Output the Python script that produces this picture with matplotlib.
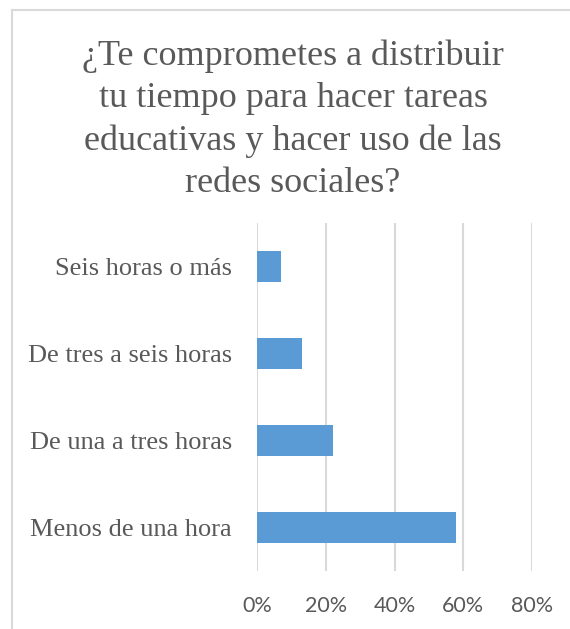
import matplotlib
matplotlib.use("Agg")
import matplotlib.pyplot as plt
from matplotlib.lines import Line2D
from matplotlib.ticker import PercentFormatter

# data (top to bottom as shown)
categories = ["Seis horas o más", "De tres a seis horas", "De una a tres horas", "Menos de una hora"]
values = [7, 13, 22, 58]
xticks = [0, 20, 40, 60, 80]
title_lines = ["¿Te comprometes a distribuir",
               "tu tiempo para hacer tareas",
               "educativas y hacer uso de las",
               "redes sociales?"]

TEXT = "#595959"
GRID = "#d9d9d9"
BAR = "#5b9bd5"

fig = plt.figure(figsize=(5.7, 6.29), dpi=100)
fig.patch.set_facecolor("white")

# chart border (only top and left show in the crop)
fig.add_artist(Line2D([12/570, 12/570], [0, 1 - 10/629], transform=fig.transFigure, color=GRID, lw=1.5))
fig.add_artist(Line2D([12/570, 1], [1 - 10/629, 1 - 10/629], transform=fig.transFigure, color=GRID, lw=1.5))

fig.text(293/570, 1 - 120/629, "\n".join(title_lines), ha="center", va="center",
         family="Liberation Serif", fontsize=26, color=TEXT, linespacing=1.36)

ax = fig.add_axes([257/570, 1 - 571/629, (532 - 257)/570, (571 - 223)/629])
ypos = list(range(len(categories)))
ax.barh(ypos, values, height=0.36, color=BAR, zorder=3)
ax.set_ylim(len(categories) - 0.5, -0.5)
ax.set_xlim(0, 80)
ax.set_xticks(xticks)
ax.xaxis.set_major_formatter(PercentFormatter(decimals=0))
ax.set_yticks(ypos)
ax.set_yticklabels(categories, family="Liberation Serif", fontsize=19, color=TEXT)
for lab in ax.get_xticklabels():
    lab.set_family("Lato")
    lab.set_fontsize(15.5)
    lab.set_color(TEXT)
ax.tick_params(axis="x", length=0, pad=18)
ax.tick_params(axis="y", length=0, pad=18)
ax.grid(axis="x", color=GRID, lw=1.5, zorder=0)
for s in ax.spines.values():
    s.set_visible(False)

fig.savefig("out.png", dpi=100)
